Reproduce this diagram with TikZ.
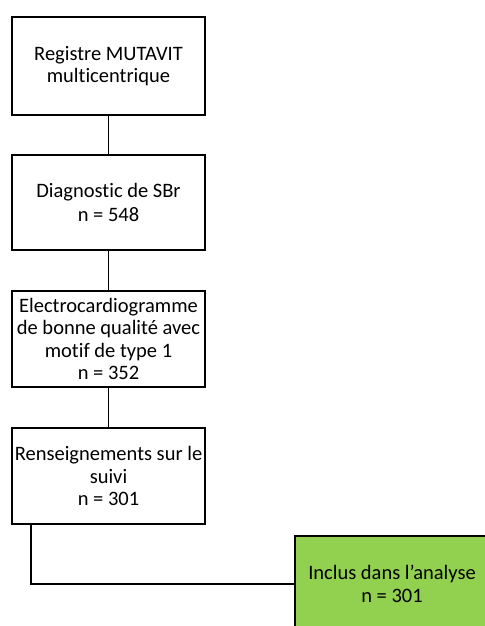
\documentclass[tikz,border=0pt]{standalone}
\usepackage{fontspec}
\setmainfont{Carlito}[Ligatures=NoCommon]
\definecolor{boxgreen}{HTML}{92D050}
\begin{document}
\begin{tikzpicture}[x=1bp,y=-1bp,
  flowbox/.style={draw=black, line width=1.8bp, fill=white, minimum width=193bp, minimum height=96bp,
    inner sep=0pt, align=center, font=\fontsize{20.5bp}{22.5bp}\selectfont},
  link/.style={draw=black, line width=1.8bp}]
\useasboundingbox (0,0) rectangle (485,626);
\node[flowbox, minimum height=98bp] (reg) at (108.5,66) {Registre MUTAVIT\\multicentrique};
\node[flowbox, minimum height=95bp] (diag) at (108.5,202.5) {Diagnostic de SBr\\[1.5bp]n = 548};
\node[flowbox] (ecg) at (108.5,339) {Electrocardiogramme\\de bonne qualité avec\\motif de type 1\\n = 352};
\node[flowbox] (suivi) at (108.5,476) {Renseignements sur le\\suivi\\n = 301};
\node[flowbox, fill=boxgreen, minimum width=194bp] (incl) at (392,584) {Inclus dans l’analyse\\n = 301};
\draw[link] (reg) -- (diag);
\draw[link] (diag) -- (ecg);
\draw[link] (ecg) -- (suivi);
\coordinate (turn) at ([xshift=20bp]suivi.south west);
\draw[link] (turn) |- (incl.west);
\end{tikzpicture}
\end{document}
